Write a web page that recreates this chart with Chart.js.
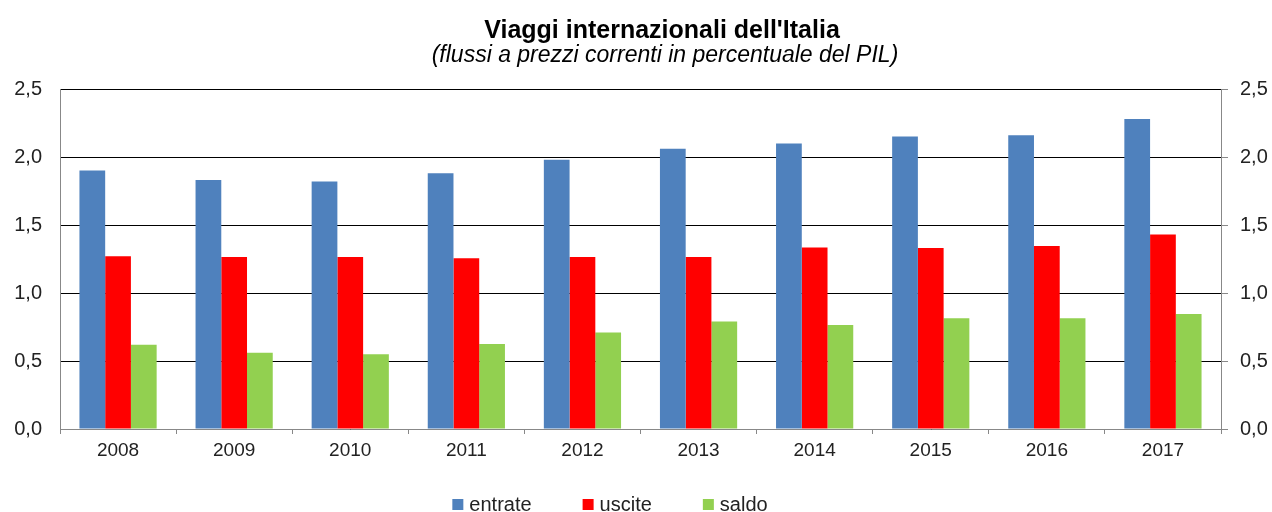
<!DOCTYPE html>
<html>
<head>
<meta charset="utf-8">
<script src="https://cdn.jsdelivr.net/npm/chart.js@4/dist/chart.umd.min.js"></script>
<style>
  html, body { margin: 0; padding: 0; background: #fff; }
  #wrap { width: 1272px; height: 512px; }
</style>
</head>
<body>
<div id="wrap"><canvas id="myChart" width="1272" height="512"></canvas></div>
<script>
// dati
const anni = ['2008', '2009', '2010', '2011', '2012', '2013', '2014', '2015', '2016', '2017'];
const entrate = [1.90, 1.83, 1.82, 1.88, 1.98, 2.06, 2.10, 2.15, 2.16, 2.28];
const uscite = [1.27, 1.265, 1.265, 1.255, 1.265, 1.265, 1.335, 1.33, 1.345, 1.43];
const saldo = [0.62, 0.56, 0.55, 0.625, 0.71, 0.79, 0.765, 0.815, 0.815, 0.845];
const yTicks = [0, 0.5, 1.0, 1.5, 2.0, 2.5];

const titolo = "Viaggi internazionali dell'Italia";
const sottotitolo = '(flussi a prezzi correnti in percentuale del PIL)';

const fmt = v => Number(v).toFixed(1).replace('.', ',');
const FONT = "'Liberation Sans', Arial, sans-serif";

// titolo e legenda disegnati a mano, come nel grafico Excel
// (titolo un po' spostato a destra, legenda con quadratini piccoli e spaziatura larga)
const testiExcel = {
    id: 'testiExcel',
    afterDraw(chart) {
        const c = chart.ctx;
        c.save();
        c.textAlign = 'center';
        c.textBaseline = 'middle';
        c.fillStyle = '#000';
        c.font = 'bold 25px ' + FONT;
        c.fillText(titolo, 662, 31);
        c.font = 'italic 23px ' + FONT;
        c.fillText(sottotitolo, 665, 56);

        const items = chart.data.datasets;
        c.textAlign = 'left';
        c.font = '20px ' + FONT;
        const box = 11, gapTesto = 6, gapItem = 51;
        let tot = 0;
        items.forEach((ds, i) => {
            tot += box + gapTesto + c.measureText(ds.label).width + (i < items.length - 1 ? gapItem : 0);
        });
        let x = 610 - tot / 2;
        const y = 504.5;
        items.forEach(ds => {
            c.fillStyle = ds.backgroundColor;
            c.fillRect(x, y - box / 2, box, box);
            x += box + gapTesto;
            c.fillStyle = '#222';
            c.fillText(ds.label, x, y + 1);
            x += c.measureText(ds.label).width + gapItem;
        });
        c.restore();
    }
};

const ctx = document.getElementById('myChart');

new Chart(ctx, {
    type: 'bar',
    data: {
        labels: anni,
        datasets: [
            { label: 'entrate', data: entrate, backgroundColor: '#4f81bd', yAxisID: 'y' },
            { label: 'uscite', data: uscite, backgroundColor: '#ff0000', yAxisID: 'y' },
            { label: 'saldo', data: saldo, backgroundColor: '#92d050', yAxisID: 'y' }
        ]
    },
    plugins: [testiExcel],
    options: {
        responsive: false,
        animation: false,
        datasets: {
            bar: { categoryPercentage: 0.665, barPercentage: 1.0 }
        },
        layout: { padding: { left: 0, right: 0, top: 89, bottom: 50 } },
        plugins: {
            title: { display: false },
            legend: { display: false },
            tooltip: { enabled: false }
        },
        scales: {
            x: {
                offset: true,
                afterFit: axis => { axis.height = 33; },
                grid: {
                    offset: true,
                    drawOnChartArea: false,
                    tickLength: 5,
                    tickColor: '#888'
                },
                border: { color: '#888' },
                ticks: {
                    color: '#222',
                    font: { family: FONT, size: 19 },
                    padding: 5
                }
            },
            y: {
                position: 'left',
                min: 0,
                max: 2.5,
                afterFit: axis => { axis.width = 60; },
                afterBuildTicks: axis => { axis.ticks = yTicks.map(v => ({ value: v })); },
                grid: { color: '#000', drawTicks: false },
                border: { color: '#888' },
                ticks: {
                    color: '#222',
                    font: { family: FONT, size: 20 },
                    padding: 18,
                    callback: fmt
                }
            },
            y2: {
                position: 'right',
                min: 0,
                max: 2.5,
                afterFit: axis => { axis.width = 51; },
                afterBuildTicks: axis => { axis.ticks = yTicks.map(v => ({ value: v })); },
                grid: { drawOnChartArea: false, tickColor: '#888', tickLength: 7 },
                border: { color: '#888' },
                ticks: {
                    color: '#222',
                    font: { family: FONT, size: 20 },
                    padding: 12,
                    callback: fmt
                }
            }
        }
    }
});
</script>
</body>
</html>
